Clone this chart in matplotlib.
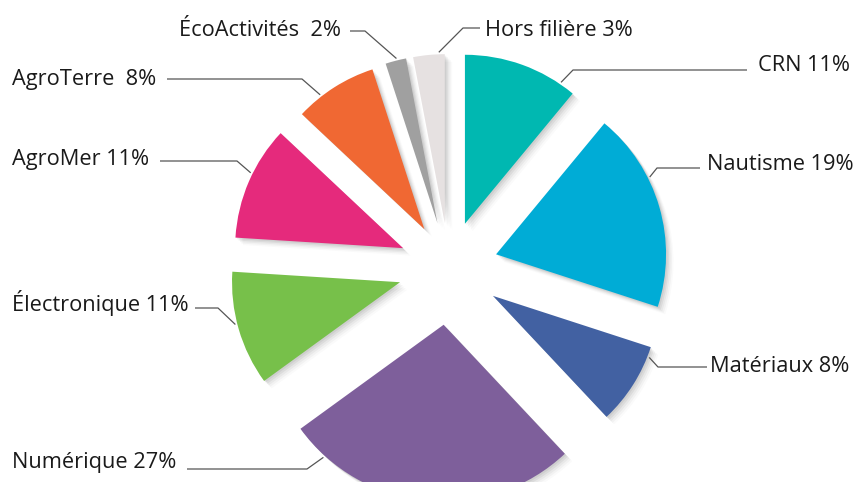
import numpy as np
import matplotlib
matplotlib.use("Agg")
import matplotlib.pyplot as plt
from matplotlib.patches import Wedge

# --- data ---
filieres = ["CRN", "Nautisme", "Matériaux", "Numérique", "Électronique",
            "AgroMer", "AgroTerre", "ÉcoActivités", "Hors filière"]
parts = [11, 19, 8, 27, 11, 11, 8, 2, 3]
colors = ["#00b8b1", "#00acd6", "#4261a2", "#7e5f9b", "#77c04a",
          "#e52a7c", "#f06833", "#a0a0a0", "#e6e1e1"]

# --- layout (pixels, measured from top-left of the picture) ---
W, H = 858, 482
cx, cy = 449, 268
explode = [47, 49, 52, 57, 51, 50, 46, 46, 45]
radius = [169, 170, 166, 177, 168, 168, 168, 168, 169]
# angle where the leader line touches each slice
touch_ang = [55.8, 26.7, -21.5, 227.8, 194.4, 153.7, 127.8, 104.0, 92.0]
# elbow of the leader line, outer end x, text anchor (left x, baseline y)
elbow = [(573, 70), (657, 168), (658, 367), (307, 469), (218, 308),
         (237, 161), (302, 79), (365, 31), (463, 28)]
line_end = [747, 700, 707, 187, 195, 160, 167, 350, 480]
text_pos = [(758, 71), (707, 170), (710, 372), (12, 468), (12, 311),
            (12, 165), (12, 85), (179, 36), (485, 36)]
seps = [" ", " ", " ", " ", " ", " ", "  ", "  ", " "]

fig = plt.figure(figsize=(W / 100, H / 100), dpi=100)
ax = fig.add_axes([0, 0, 1, 1])
ax.set_xlim(0, W)
ax.set_ylim(0, H)
ax.axis("off")

def flip(y):
    return H - y

# clockwise from 12 o'clock
start = 90.0
spans = []
for v in parts:
    t1 = start - 360.0 * v / sum(parts)
    spans.append((t1, start))
    start = t1

apexes = []
for i, (t1, t2) in enumerate(spans):
    mid = np.radians((t1 + t2) / 2)
    apexes.append((cx + explode[i] * np.cos(mid),
                   flip(cy) + explode[i] * np.sin(mid)))

# soft shadows first
for i, (t1, t2) in enumerate(spans):
    ax_, ay_ = apexes[i]
    for off, a in [(1.5, 0.06), (3, 0.05), (4.5, 0.04), (6, 0.03), (7.5, 0.02)]:
        ax.add_patch(Wedge((ax_ + off, ay_ - off), radius[i], t1, t2,
                           facecolor="black", alpha=a, lw=0))

for i, (t1, t2) in enumerate(spans):
    ax.add_patch(Wedge(apexes[i], radius[i], t1, t2,
                       facecolor=colors[i], edgecolor="none", lw=0))

# leader lines and labels
for i in range(len(parts)):
    a = np.radians(touch_ang[i])
    px = apexes[i][0] + (radius[i] + 2) * np.cos(a)
    py = apexes[i][1] + (radius[i] + 2) * np.sin(a)
    ex, ey = elbow[i]
    ax.plot([px, ex, line_end[i]], [py, flip(ey), flip(ey)],
            color="#555555", lw=0.9, solid_capstyle="butt")
    tx, ty = text_pos[i]
    ax.text(tx, flip(ty), f"{filieres[i]}{seps[i]}{parts[i]}%",
            family="Open Sans", fontsize=15.7, color="#1a1a1a",
            ha="left", va="baseline")

fig.savefig("out.png", dpi=100, facecolor="white")
